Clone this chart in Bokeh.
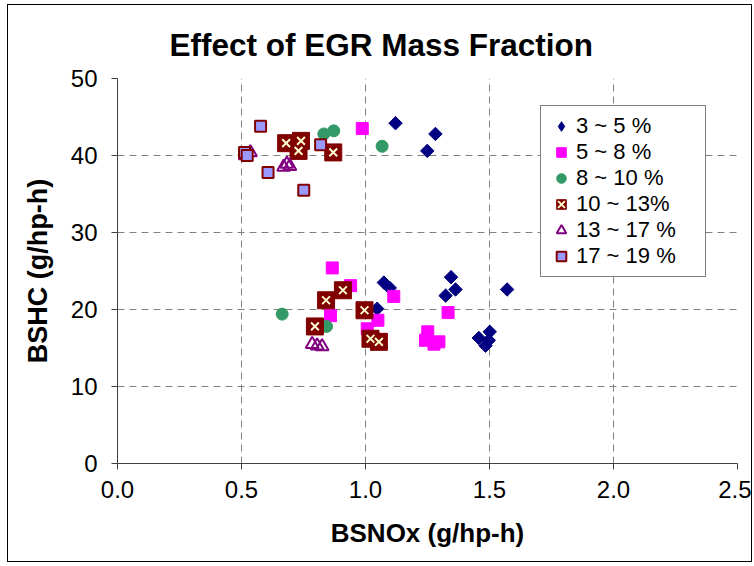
import numpy as np
from bokeh.plotting import figure
from bokeh.models import (Range1d, FixedTicker, NumeralTickFormatter, Legend, LegendItem, Title)
from bokeh.embed import file_html
from bokeh.resources import INLINE

# ---- data ----
labels = ["3 ~ 5 %", "5 ~ 8 %", "8 ~ 10 %", "10 ~ 13%", "13 ~ 17 %", "17 ~ 19 %"]

egr_3_5_x = [1.121, 1.282, 1.249, 1.074, 1.098, 1.047, 1.345, 1.363, 1.323, 1.571, 1.457, 1.501, 1.497, 1.484]
egr_3_5_y = [44.2, 42.8, 40.6, 23.5, 22.8, 20.1, 24.2, 22.6, 21.8, 22.6, 16.3, 17.1, 16.0, 15.3]

egr_5_8_x = [0.987, 0.866, 0.94, 1.114, 0.859, 1.05, 1.007, 1.333, 1.251, 1.242, 1.276, 1.296]
egr_5_8_y = [43.5, 25.4, 23.1, 21.7, 19.2, 18.6, 17.5, 19.6, 17.1, 16.0, 15.5, 15.8]

egr_8_10_x = [0.832, 0.872, 1.067, 0.843, 0.664]
egr_8_10_y = [42.8, 43.2, 41.2, 17.8, 19.4]

egr_10_13_x = [0.68, 0.74, 0.73, 0.87, 0.909, 0.841, 0.996, 0.796, 1.02, 1.054]
egr_10_13_y = [41.6, 41.9, 40.6, 40.4, 22.5, 21.2, 19.9, 17.8, 16.2, 15.8]

egr_13_17_x = [0.536, 0.515, 0.670, 0.683, 0.695, 0.785, 0.805, 0.825]
egr_13_17_y = [40.4, 40.0, 38.5, 38.9, 38.6, 15.5, 15.3, 15.2]

egr_17_19_x = [0.577, 0.512, 0.523, 0.607, 0.751, 0.819]
egr_17_19_y = [43.8, 40.4, 40.0, 37.8, 35.5, 41.4]

x_ticks = [0.0, 0.5, 1.0, 1.5, 2.0, 2.5]
y_ticks = [0, 10, 20, 30, 40, 50]

FONT = "Liberation Sans"

p = figure(width=745, height=558, output_backend="svg", toolbar_location=None,
           x_range=Range1d(0, 2.5), y_range=Range1d(0, 50),
           min_border_left=109, min_border_right=16, min_border_top=73, min_border_bottom=100,
           background_fill_color="white", border_fill_color="white")
p.margin = (4, 0, 0, 7)
p.styles = {"border": "1px solid black"}
p.outline_line_color = None

p.title = Title(text="Effect of EGR Mass Fraction", align="left", offset=52,
                text_font=FONT, text_font_size="31.5px", text_font_style="bold",
                text_color="black", standoff=31)

# axes
for ax in (p.xaxis[0], p.yaxis[0]):
    ax.axis_line_color = "#404040"
    ax.major_tick_line_color = "#404040"
    ax.major_tick_out = 6
    ax.major_tick_in = 0
    ax.minor_tick_line_color = None
    ax.major_label_text_font = FONT
    ax.major_label_text_font_size = "24px"
    ax.major_label_text_color = "black"
    ax.axis_label_text_font = FONT
    ax.axis_label_text_font_style = "bold"
    ax.axis_label_text_color = "black"

p.xaxis.ticker = FixedTicker(ticks=x_ticks)
p.yaxis.ticker = FixedTicker(ticks=y_ticks)
p.xaxis.formatter = NumeralTickFormatter(format="0.0")
p.xaxis.axis_label = "BSNOx (g/hp-h)"
p.yaxis.axis_label = "BSHC (g/hp-h)"
p.xaxis.axis_label_text_font_size = "26px"
p.yaxis.axis_label_text_font_size = "27px"
p.xaxis.major_label_standoff = 11
p.yaxis.major_label_standoff = 14
p.xaxis.axis_label_standoff = 17
p.yaxis.axis_label_standoff = 15

for g in (p.xgrid[0], p.ygrid[0]):
    g.grid_line_color = "#808080"
    g.grid_line_dash = "7 5"
    g.grid_line_width = 1
p.xgrid.ticker = FixedTicker(ticks=x_ticks)
p.ygrid.ticker = FixedTicker(ticks=y_ticks)

# series
# diamond glyph used for the legend swatch; hidden beneath the rotated squares
r1_leg = p.scatter(egr_3_5_x, egr_3_5_y, marker="diamond", size=12,
                   fill_color="#000080", line_color="#000080")
r1 = p.scatter(egr_3_5_x, egr_3_5_y, marker="square", size=9.5, angle=np.pi / 4,
               fill_color="#000080", line_color="#000080")
r2 = p.scatter(egr_5_8_x, egr_5_8_y, marker="square", size=12,
               fill_color="#FF00FF", line_color="#FF00FF")
r3 = p.scatter(egr_8_10_x, egr_8_10_y, marker="circle", size=12,
               fill_color="#339966", line_color="#339966")
r4a = p.scatter(egr_10_13_x, egr_10_13_y, marker="square", size=17,
                fill_color="#800000", line_color="#800000")
r4b = p.scatter(egr_10_13_x, egr_10_13_y, marker="x", size=11,
                line_color="#FFFFCC", line_width=2)
r5 = p.scatter(egr_13_17_x, egr_13_17_y, marker="triangle", size=13,
               fill_color="white", fill_alpha=0.0, line_color="#800080", line_width=2)
r6 = p.scatter(egr_17_19_x, egr_17_19_y, marker="square", size=11,
               fill_color="#9999FF", line_color="#800000", line_width=2)

legend = Legend(items=[
    LegendItem(label=labels[0], renderers=[r1_leg]),
    LegendItem(label=labels[1], renderers=[r2]),
    LegendItem(label=labels[2], renderers=[r3]),
    LegendItem(label=labels[3], renderers=[r4a, r4b]),
    LegendItem(label=labels[4], renderers=[r5]),
    LegendItem(label=labels[5], renderers=[r6]),
], location=(423, 186))
legend.label_text_font = FONT
legend.label_text_font_size = "22px"
legend.label_text_color = "black"
legend.label_height = 24
legend.glyph_height = 24
legend.glyph_width = 26
legend.label_standoff = 2
legend.label_width = 122
legend.padding = 7
legend.spacing = 0
legend.margin = 0
legend.border_line_color = "black"
legend.border_line_width = 1
legend.background_fill_color = "white"
legend.background_fill_alpha = 1.0
p.add_layout(legend)

open("out.html", "w").write(file_html(p, INLINE))
